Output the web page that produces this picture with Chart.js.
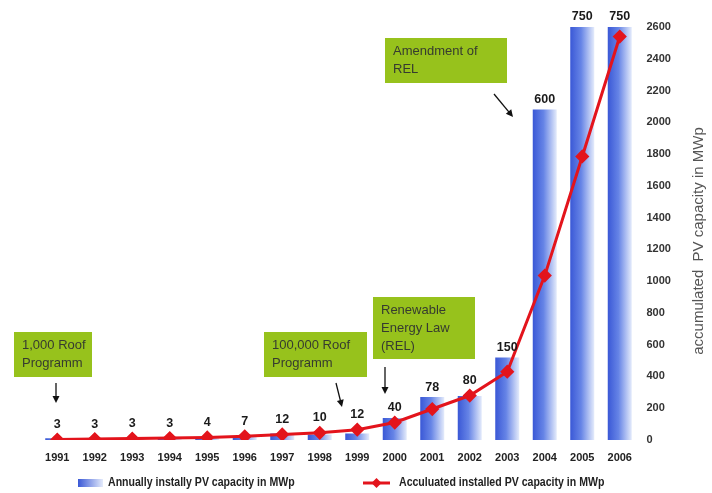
<!DOCTYPE html>
<html>
<head>
<meta charset="utf-8">
<title>PV capacity in Germany</title>
<script src="https://cdn.jsdelivr.net/npm/chart.js@4.4.1/dist/chart.umd.min.js"></script>
<style>
body{margin:0;background:#fff;}
</style>
</head>
<body>
<canvas id="myChart" width="712" height="493"></canvas>
<script>
var years = ["1991","1992","1993","1994","1995","1996","1997","1998","1999","2000","2001","2002","2003","2004","2005","2006"];
var annual = [3, 3, 3, 3, 4, 7, 12, 10, 12, 40, 78, 80, 150, 600, 750, 750];
var accumulated = [3, 6, 9, 12, 16, 23, 35, 45, 65, 110, 195, 280, 430, 1035, 1785, 2540];
var annualLabel = "Annually instally PV capacity in MWp";
var accLabel = "Acculuated installed PV capacity in MWp";
var axisTitle = "accumulated  PV capacity in MWp";

var FONT = '"Liberation Sans", Arial, sans-serif';
var RED = "#e3141c";

// green note boxes (pixel layout, not data)
var notes = [
    {x: 14, y: 332, w: 78, h: 45, lines: ["1,000 Roof", "Programm"], arrow: [56, 383, 56, 403]},
    {x: 264, y: 332, w: 103, h: 45, lines: ["100,000 Roof", "Programm"], arrow: [336, 383, 342, 407]},
    {x: 373, y: 297, w: 102, h: 62, lines: ["Renewable", "Energy Law", "(REL)"], arrow: [385, 367, 385, 394]},
    {x: 385, y: 38, w: 122, h: 45, lines: ["Amendment of", "REL"], arrow: [494, 94, 513, 117]}
];

function barGradient(c){
    var chart = c.chart;
    var x = NaN;
    if (chart.scales && chart.scales.x) x = chart.scales.x.getPixelForValue(c.dataIndex);
    if (!isFinite(x)) return "#5577dd";
    var g = chart.ctx.createLinearGradient(x - 12, 0, x + 12, 0);
    g.addColorStop(0, "#3a58d6");
    g.addColorStop(0.45, "#6684e6");
    g.addColorStop(1, "#e4ebfb");
    return g;
}

function arrow(ctx, x1, y1, x2, y2){
    var a = Math.atan2(y2 - y1, x2 - x1);
    ctx.beginPath();
    ctx.moveTo(x1, y1);
    ctx.lineTo(x2 - 5 * Math.cos(a), y2 - 5 * Math.sin(a));
    ctx.stroke();
    ctx.beginPath();
    ctx.moveTo(x2, y2);
    ctx.lineTo(x2 - 7 * Math.cos(a) + 3.5 * Math.sin(a), y2 - 7 * Math.sin(a) - 3.5 * Math.cos(a));
    ctx.lineTo(x2 - 7 * Math.cos(a) - 3.5 * Math.sin(a), y2 - 7 * Math.sin(a) + 3.5 * Math.cos(a));
    ctx.closePath();
    ctx.fill();
}

// narrow bold text, squeezed horizontally
function narrowText(ctx, txt, x, y, align){
    ctx.save();
    ctx.translate(x, y);
    ctx.scale(0.88, 1);
    ctx.textAlign = align;
    ctx.fillText(txt, 0, 0);
    ctx.restore();
}

var extras = {
    id: "extras",
    afterDatasetsDraw: function(chart){
        var ctx = chart.ctx;
        var bars = chart.getDatasetMeta(0).data;
        var pts = chart.getDatasetMeta(1).data;
        ctx.save();

        // values above bars
        ctx.font = "bold 12.5px " + FONT;
        ctx.fillStyle = "#1a1a1a";
        ctx.textBaseline = "middle";
        ctx.textAlign = "center";
        bars.forEach(function(b, i){
            var y = Math.min(b.y - 10, pts[i].y - 15);
            ctx.fillText(String(annual[i]), b.x, y);
        });

        // note boxes
        notes.forEach(function(n){
            ctx.fillStyle = "#97c21c";
            ctx.fillRect(n.x, n.y, n.w, n.h);
            ctx.fillStyle = "#363b30";
            ctx.font = "13px " + FONT;
            ctx.textAlign = "left";
            var top = n.y + n.h / 2 - (n.lines.length - 1) * 9;
            n.lines.forEach(function(t, k){
                ctx.fillText(t, n.x + 8, top + k * 18);
            });
            ctx.strokeStyle = "#111";
            ctx.fillStyle = "#111";
            ctx.lineWidth = 1.3;
            arrow(ctx, n.arrow[0], n.arrow[1], n.arrow[2], n.arrow[3]);
        });

        // right axis title (reads bottom to top)
        ctx.save();
        ctx.translate(699, 241);
        ctx.rotate(-Math.PI / 2);
        ctx.font = "15px " + FONT;
        ctx.fillStyle = "#555";
        ctx.textAlign = "center";
        ctx.fillText(axisTitle, 0, 0);
        ctx.restore();

        // legend
        var ly = 483;
        var g = ctx.createLinearGradient(78, 0, 103, 0);
        g.addColorStop(0, "#3a58d6");
        g.addColorStop(1, "#e4ebfb");
        ctx.fillStyle = g;
        ctx.fillRect(78, ly - 4, 25, 8);
        ctx.font = "bold 12px " + FONT;
        ctx.fillStyle = "#222";
        narrowText(ctx, annualLabel, 108, ly, "left");

        ctx.strokeStyle = RED;
        ctx.lineWidth = 3;
        ctx.beginPath();
        ctx.moveTo(363, ly);
        ctx.lineTo(390, ly);
        ctx.stroke();
        ctx.fillStyle = RED;
        ctx.beginPath();
        ctx.moveTo(376.5, ly - 5);
        ctx.lineTo(381.5, ly);
        ctx.lineTo(376.5, ly + 5);
        ctx.lineTo(371.5, ly);
        ctx.closePath();
        ctx.fill();
        ctx.fillStyle = "#222";
        narrowText(ctx, accLabel, 399, ly, "left");

        ctx.restore();
    }
};

var myChart = document.getElementById("myChart").getContext("2d");

var chart = new Chart(myChart, {
    type: "bar",
    data: {
        labels: years,
        datasets: [
            {
                type: "bar",
                label: annualLabel,
                data: annual,
                yAxisID: "y",
                backgroundColor: barGradient,
                barPercentage: 0.64,
                categoryPercentage: 1,
                order: 2
            },
            {
                type: "line",
                label: accLabel,
                data: accumulated,
                yAxisID: "y1",
                borderColor: RED,
                borderWidth: 3,
                backgroundColor: RED,
                pointStyle: "rectRot",
                pointRadius: 5,
                pointBackgroundColor: RED,
                pointBorderColor: RED,
                tension: 0,
                order: 1
            }
        ]
    },
    plugins: [extras],
    options: {
        responsive: false,
        animation: false,
        devicePixelRatio: 1,
        layout: {padding: {top: 27, left: 38.5, right: 0, bottom: 0}},
        plugins: {
            legend: {display: false},
            tooltip: {enabled: false}
        },
        scales: {
            x: {
                grid: {display: false, drawTicks: false},
                border: {display: false},
                ticks: {
                    color: "#222",
                    font: {family: FONT, size: 11, weight: "bold"},
                    padding: 11,
                    maxRotation: 0
                },
                afterFit: function(s){ s.height = 53; }
            },
            y: {
                display: false,
                min: 0,
                max: 750
            },
            y1: {
                position: "right",
                min: 0,
                max: 2600,
                grid: {display: false, drawTicks: false},
                border: {display: false},
                ticks: {
                    stepSize: 200,
                    color: "#333",
                    font: {family: FONT, size: 11, weight: "bold"},
                    padding: 8,
                    callback: function(v){ return String(v); }
                },
                afterFit: function(s){ s.width = 73.5; }
            }
        }
    }
});
</script>
</body>
</html>
